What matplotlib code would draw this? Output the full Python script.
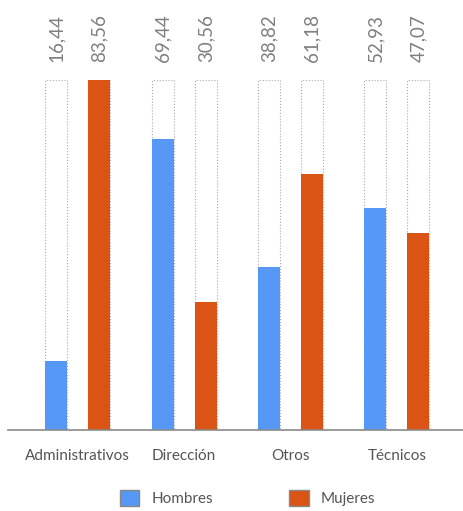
import numpy as np
import matplotlib.pyplot as plt
from matplotlib.patches import Patch

# Datos
categorias = ['Administrativos', 'Dirección', 'Otros', 'Técnicos']
hombres = [16.44, 69.44, 38.82, 52.93]
mujeres = [83.56, 30.56, 61.18, 47.07]
series = ['Hombres', 'Mujeres']

azul = '#5797f5'
naranja = '#da5515'
gris = '#7f7f7f'

plt.rcParams['font.family'] = ['Lato', 'DejaVu Sans']

fig = plt.figure(figsize=(4.63, 5.11), dpi=100)
ax = fig.add_axes([8 / 463, 1 - 430 / 511, 455 / 463, 350 / 511])

x = np.arange(len(categorias))
ancho = 0.207
desp = 0.202
ymax = max(max(hombres), max(mujeres))

for valores, color, signo in [(hombres, azul, -1), (mujeres, naranja, 1)]:
    pos = x + signo * desp
    # barra de fondo (100 %)
    ax.bar(pos, [ymax] * len(valores), width=ancho, color='white',
           edgecolor='#aaaaaa', linestyle=':', linewidth=0.8, zorder=1)
    ax.bar(pos, valores, width=ancho, color=color, zorder=2)
    for p, v in zip(pos, valores):
        ax.annotate(f'{v:.2f}'.replace('.', ','), (p, ymax), xytext=(0, 13),
                    textcoords='offset points', rotation=90, ha='center',
                    va='bottom', fontsize=13.5, color=gris)

ax.set_ylim(0, ymax)
ax.set_xlim(-0.657, 3.621)
ax.set_xticks(x)
ax.set_xticklabels(categorias, fontsize=11, color='#555555')
ax.tick_params(axis='x', length=0, pad=14)
ax.set_yticks([])
for s in ['top', 'right', 'left']:
    ax.spines[s].set_visible(False)
ax.spines['bottom'].set_color('#8a8a8a')
ax.spines['bottom'].set_linewidth(1.2)

handles = [Patch(facecolor=azul, edgecolor='#888888', label=series[0]),
           Patch(facecolor=naranja, edgecolor='#888888', label=series[1])]
fig.legend(handles=handles, loc='lower center', bbox_to_anchor=(0.535, -0.018),
           ncol=2, frameon=False, fontsize=11, handlelength=1.25,
           handleheight=1.25, columnspacing=5.0, labelcolor='#555555')

plt.savefig('out.png', dpi=100)
